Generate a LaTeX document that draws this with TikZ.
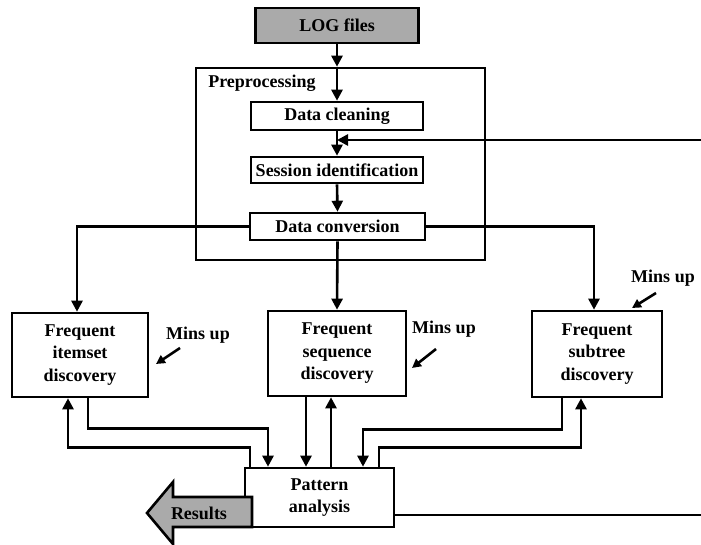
\documentclass[tikz,border=0pt]{standalone}
\usepackage{fontspec}
\setmainfont{Liberation Serif}
\usetikzlibrary{arrows.meta}
\definecolor{boxgray}{RGB}{170,170,170}
\tikzset{
  box/.style={draw, inner sep=0pt, align=center},
  conn/.style={-{Triangle[length=11pt,width=11pt]}},
  minsarrow/.style={-{Triangle[length=9pt,width=9pt]}},
  lbl/.style={inner sep=0pt, align=center}
}
\begin{document}
\begin{tikzpicture}[x=1pt,y=-1pt, line width=2.6pt, font=\fontsize{18}{22.5}\selectfont\bfseries]
\useasboundingbox (0,0) rectangle (701,545);
% boxes
\node[box, fill=boxgray, minimum width=163pt, minimum height=35pt] (log) at (337,25.5) {LOG files};
\node[box, minimum width=289pt, minimum height=192pt] (prep) at (340.5,164) {};
\node[lbl, anchor=west] (preplbl) at (207,83) {Preprocessing};
\node[box, minimum width=172pt, minimum height=28pt] (dc) at (337,116) {Data cleaning};
\node[box, minimum width=172pt, minimum height=26pt] (si) at (337,170) {Session identification};
\node[box, minimum width=175pt, minimum height=27pt] (dconv) at (337.5,226.5) {Data conversion};
\node[box, minimum width=136pt, minimum height=84pt] (itemset) at (80,355) {Frequent\\itemset\\discovery};
\node[box, minimum width=138pt, minimum height=85pt] (seq) at (337,353.5) {Frequent\\sequence\\discovery};
\node[box, minimum width=130pt, minimum height=86pt] (subtree) at (597,354) {Frequent\\subtree\\discovery};
\node[box, fill=white, minimum width=149pt, minimum height=59pt] (pattern) at (319.5,497.5) {Pattern\\analysis};
% results arrow
\draw[fill=boxgray] (252,497) -- (173,497) -- (173,482) -- (147,513) -- (173,544) -- (173,527) -- (252,527) -- cycle;
\node[lbl] (results) at (199,513) {Results};
% mins up
\node[lbl] (m1) at (198,335) {Mins up};
\node[lbl] (m2) at (444,329) {Mins up};
\node[lbl] (m3) at (663,278) {Mins up};
\coordinate (m1s) at (180,348); \coordinate (m1e) at (156,364);
\coordinate (m2s) at (436,349); \coordinate (m2e) at (412,368);
\coordinate (m3s) at (656,293); \coordinate (m3e) at (632,308);
\draw[minsarrow] (m1s) -- (m1e);
\draw[minsarrow] (m2s) -- (m2e);
\draw[minsarrow] (m3s) -- (m3e);
% preprocessing flow
\draw[conn] (log.south) -- (log.south |- prep.north);
\draw[conn] (log.south |- prep.north) -- (dc.north);
\draw[conn] (dc.south) -- (si.north);
\draw[conn] (si.south) -- (dconv.north);
\coordinate (fbin) at (701,140);
\draw[conn] (fbin) -- (fbin -| dc.south);
% to discovery boxes
\draw[conn] (dconv.west) -| ([xshift=-3pt]itemset.north);
\draw[conn] (dconv.south) -- (seq.north);
\draw[conn] (dconv.east) -| ([xshift=-3pt]subtree.north);
% discovery <-> pattern
\draw[conn] ([xshift=8pt]itemset.south) -- ++(0,30) -| ([xshift=-51.5pt]pattern.north);
\draw[conn] ([xshift=-69.5pt]pattern.north) -- ++(0,-19) -| ([xshift=-12pt]itemset.south);
\draw[conn] ([xshift=-31pt]seq.south) -- ([xshift=-31pt]seq.south |- pattern.north);
\draw[conn] ([xshift=11.5pt]pattern.north) -- ([xshift=11.5pt]pattern.north |- seq.south);
\draw[conn] ([xshift=-35pt]subtree.south) -- ++(0,31) -| ([xshift=43.5pt]pattern.north);
\draw[conn] ([xshift=59.5pt]pattern.north) -- ++(0,-19) -| ([xshift=-16pt]subtree.south);
% feedback out
\coordinate (fbout) at (701,515);
\draw ([yshift=-17.5pt]pattern.east) -- (fbout);
\end{tikzpicture}
\end{document}
